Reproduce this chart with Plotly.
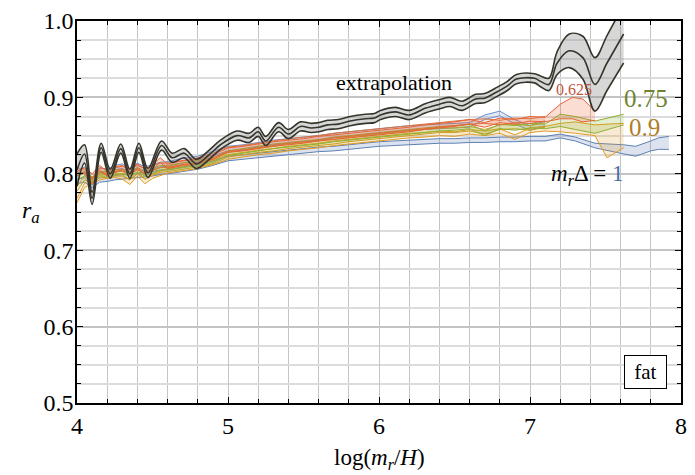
import plotly.graph_objects as go

# ---------------- data ----------------
# extrapolation band
x_ext = [4.00, 4.05, 4.10, 4.16, 4.22, 4.29, 4.35, 4.41, 4.47, 4.56, 4.63, 4.71, 4.79, 4.87, 4.95,
         5.06, 5.14, 5.20, 5.25, 5.335, 5.40, 5.48, 5.55, 5.60, 5.66, 5.73, 5.81, 5.91, 5.97, 6.01,
         6.11, 6.20, 6.31, 6.40, 6.47, 6.55, 6.64, 6.70, 6.77, 6.85, 6.91, 7.03, 7.07, 7.125, 7.18,
         7.26, 7.35, 7.43, 7.51, 7.62]
y_ext = [0.805, 0.826, 0.768, 0.834, 0.800, 0.833, 0.800, 0.834, 0.801, 0.837, 0.821, 0.827, 0.813, 0.824, 0.838,
         0.850, 0.847, 0.855, 0.843, 0.861, 0.852, 0.862, 0.860, 0.861, 0.864, 0.865, 0.869, 0.872, 0.873, 0.877,
         0.881, 0.877, 0.886, 0.891, 0.894, 0.889, 0.898, 0.899, 0.906, 0.915, 0.924, 0.925, 0.921, 0.917, 0.945,
         0.961, 0.952, 0.917, 0.945, 0.983]
hw_ext = [0.021, 0.012, 0.008, 0.006, 0.006, 0.006, 0.006, 0.006, 0.006, 0.006, 0.006, 0.006, 0.006, 0.006, 0.006,
          0.006, 0.006, 0.006, 0.006, 0.006, 0.006, 0.006, 0.006, 0.006, 0.006, 0.006, 0.006, 0.006, 0.006, 0.006,
          0.006, 0.006, 0.006, 0.006, 0.006, 0.006, 0.006, 0.006, 0.006, 0.006, 0.006, 0.006, 0.007, 0.008, 0.015,
          0.022, 0.028, 0.035, 0.036, 0.038]

# common abscissa of the mrΔ bundle
x_b = [4.0, 4.05, 4.1, 4.15, 4.2, 4.25, 4.3, 4.35, 4.4, 4.45, 4.5, 4.55, 4.6, 4.7, 4.8, 4.9, 5.0, 5.1, 5.2,
       5.3, 5.4, 5.5, 5.6, 5.7, 5.8, 5.9, 6.0, 6.1, 6.2, 6.3, 6.4, 6.5, 6.6, 6.7, 6.8, 6.9, 7.0, 7.1]
band_hw = 0.003

r_blue = [0.790, 0.792, 0.785, 0.792, 0.793, 0.795, 0.796, 0.797, 0.798, 0.799, 0.800, 0.802, 0.803, 0.806, 0.809,
          0.814, 0.820, 0.822, 0.824, 0.826, 0.828, 0.830, 0.832, 0.833, 0.835, 0.837, 0.839, 0.840, 0.841, 0.842,
          0.843, 0.843, 0.844, 0.844, 0.845, 0.845, 0.846, 0.846]
r_lightblue = [0.800, 0.806, 0.788, 0.805, 0.803, 0.808, 0.810, 0.804, 0.811, 0.806, 0.809, 0.812, 0.813, 0.817,
               0.820, 0.826, 0.833, 0.835, 0.838, 0.841, 0.843, 0.845, 0.847, 0.850, 0.852, 0.854, 0.856, 0.858,
               0.860, 0.861, 0.862, 0.863, 0.864, 0.874, 0.879, 0.868, 0.860, 0.866]
r_orange = [0.765, 0.785, 0.790, 0.795, 0.797, 0.798, 0.796, 0.789, 0.800, 0.790, 0.797, 0.800, 0.804, 0.807, 0.810,
            0.815, 0.822, 0.825, 0.828, 0.830, 0.833, 0.835, 0.837, 0.840, 0.842, 0.844, 0.846, 0.848, 0.850, 0.851,
            0.853, 0.852, 0.855, 0.853, 0.856, 0.848, 0.857, 0.859]
r_brown = [0.780, 0.795, 0.792, 0.798, 0.798, 0.800, 0.800, 0.795, 0.803, 0.796, 0.801, 0.805, 0.806, 0.809, 0.812,
           0.816, 0.825, 0.828, 0.831, 0.833, 0.836, 0.838, 0.840, 0.842, 0.845, 0.847, 0.849, 0.851, 0.853, 0.855,
           0.857, 0.857, 0.859, 0.855, 0.861, 0.862, 0.860, 0.864]
r_green = [0.795, 0.800, 0.793, 0.800, 0.800, 0.802, 0.803, 0.800, 0.805, 0.800, 0.804, 0.808, 0.808, 0.811, 0.814,
           0.818, 0.827, 0.830, 0.833, 0.836, 0.838, 0.840, 0.842, 0.845, 0.847, 0.849, 0.851, 0.853, 0.855, 0.857,
           0.859, 0.860, 0.862, 0.853, 0.862, 0.860, 0.863, 0.862]
r_purple = [0.805, 0.803, 0.790, 0.805, 0.802, 0.805, 0.807, 0.803, 0.808, 0.804, 0.807, 0.811, 0.811, 0.815, 0.818,
            0.824, 0.832, 0.834, 0.837, 0.840, 0.843, 0.845, 0.847, 0.850, 0.852, 0.854, 0.856, 0.858, 0.860, 0.862,
            0.864, 0.866, 0.868, 0.869, 0.867, 0.870, 0.869, 0.872]
r_red = [0.800, 0.805, 0.797, 0.808, 0.800, 0.806, 0.808, 0.802, 0.810, 0.803, 0.808, 0.818, 0.810, 0.814, 0.816,
         0.822, 0.831, 0.833, 0.836, 0.839, 0.841, 0.843, 0.846, 0.848, 0.850, 0.852, 0.854, 0.856, 0.858, 0.861,
         0.863, 0.865, 0.868, 0.864, 0.870, 0.868, 0.872, 0.871]

# continuations beyond log(mr/H)=7.1 (lower / upper edges)
red_x = [7.2, 7.28, 7.35, 7.43]
red_lo = [0.872, 0.872, 0.868, 0.870]
red_hi = [0.891, 0.900, 0.898, 0.882]
green_x = [7.2, 7.3, 7.43, 7.62]
green_lo = [0.862, 0.858, 0.853, 0.864]
green_hi = [0.878, 0.875, 0.869, 0.878]
orange_x = [7.2, 7.3, 7.43, 7.51, 7.62]
orange_lo = [0.855, 0.853, 0.850, 0.821, 0.834]
orange_hi = [0.866, 0.868, 0.864, 0.865, 0.866]
blue_x = [7.2, 7.3, 7.43, 7.62, 7.7, 7.8, 7.85, 7.92]
blue_lo = [0.847, 0.843, 0.834, 0.826, 0.823, 0.830, 0.832, 0.832]
blue_hi = [0.852, 0.848, 0.840, 0.838, 0.836, 0.843, 0.847, 0.849]

# ---------------- figure ----------------
fig = go.Figure()


def band(x, lo, hi, color, fill, width=1.0, shape="linear"):
    fig.add_trace(go.Scatter(x=x, y=lo, mode="lines", line=dict(color=color, width=width, shape=shape),
                             hoverinfo="skip", showlegend=False))
    fig.add_trace(go.Scatter(x=x, y=hi, mode="lines", line=dict(color=color, width=width, shape=shape),
                             fill="tonexty", fillcolor=fill, hoverinfo="skip", showlegend=False))


series = [
    (r_blue, "#5E81B5", "rgba(94,129,181,0.22)", blue_x, blue_lo, blue_hi),
    (r_lightblue, "#6C8FD0", "rgba(108,143,208,0.2)", [], [], []),
    (r_orange, "#E19C24", "rgba(225,156,36,0.2)", orange_x, orange_lo, orange_hi),
    (r_brown, "#C8A020", "rgba(200,160,32,0.18)", [], [], []),
    (r_green, "#8FB032", "rgba(143,176,50,0.22)", green_x, green_lo, green_hi),
    (r_purple, "#D9733F", "rgba(217,115,63,0.18)", [], [], []),
    (r_red, "#EB6235", "rgba(235,98,53,0.22)", red_x, red_lo, red_hi),
]
for vals, col, fcol, ex, elo, ehi in series:
    lo = [v - band_hw for v in vals] + elo
    hi = [v + band_hw for v in vals] + ehi
    band(x_b + ex, lo, hi, col, fcol)

# extrapolation
lo_e = [c - h for c, h in zip(y_ext, hw_ext)]
hi_e = [c + h for c, h in zip(y_ext, hw_ext)]
band(x_ext, lo_e, hi_e, "#35352c", "rgba(140,140,140,0.35)", width=1.6, shape="spline")
fig.add_trace(go.Scatter(x=x_ext, y=y_ext, mode="lines",
                         line=dict(color="#35352c", width=1.6, shape="spline"),
                         hoverinfo="skip", showlegend=False))

FONT = "Liberation Serif, Times New Roman, serif"

fig.add_annotation(x=6.10, y=0.919, text="extrapolation", showarrow=False,
                   font=dict(family=FONT, size=22, color="black"))
fig.add_annotation(x=7.29, y=0.910, text="0.625", showarrow=False,
                   font=dict(family=FONT, size=16, color="#C0553A"))
fig.add_annotation(x=7.77, y=0.898, text="0.75", showarrow=False,
                   font=dict(family=FONT, size=25, color="#6E8430"))
fig.add_annotation(x=7.755, y=0.860, text="0.9", showarrow=False,
                   font=dict(family=FONT, size=25, color="#B07D2A"))
fig.add_annotation(x=7.38, y=0.798,
                   text="<i>m<sub>r</sub></i>Δ =<span style='color:#4A6FA5'> 1</span>",
                   showarrow=False, font=dict(family=FONT, size=23, color="black"))
fig.add_annotation(x=7.765, y=0.540, text=" fat ", showarrow=False,
                   font=dict(family=FONT, size=21, color="black"),
                   bordercolor="black", borderwidth=1, borderpad=4, bgcolor="white")

# axis titles as annotations
fig.add_annotation(xref="paper", yref="paper", x=-0.095, y=0.50, text="<i>r<sub>a</sub></i>",
                   showarrow=False, font=dict(family=FONT, size=24, color="black"))
fig.add_annotation(xref="paper", yref="paper", x=0.50, y=-0.147, yanchor="middle",
                   text="log(<i>m<sub>r</sub></i>/<i>H</i>)",
                   showarrow=False, font=dict(family=FONT, size=23, color="black"))

grid_col = "#c4c4c4"
fig.update_xaxes(range=[4, 8], dtick=1, tick0=4, showgrid=True, gridcolor=grid_col, gridwidth=1,
                 ticks="inside", ticklen=6, tickcolor="black", showline=True, linecolor="black",
                 linewidth=1.5, mirror="allticks", zeroline=False,
                 tickfont=dict(family=FONT, size=24, color="black"),
                 minor=dict(dtick=0.2, showgrid=True, gridcolor=grid_col, gridwidth=1,
                            ticks="inside", ticklen=4, tickcolor="black"))
fig.update_yaxes(range=[0.5, 1.0], dtick=0.1, tick0=0.5, tickformat=".1f", showgrid=True,
                 gridcolor=grid_col, gridwidth=1.5,
                 ticks="inside", ticklen=6, tickcolor="black", showline=True, linecolor="black",
                 linewidth=1.5, mirror="allticks", zeroline=False, ticklabelstandoff=-3,
                 tickfont=dict(family=FONT, size=24, color="black"),
                 minor=dict(dtick=0.025, showgrid=True, gridcolor="#dcdcdc", gridwidth=1.5,
                            ticks="inside", ticklen=4, tickcolor="black"))

fig.update_layout(width=695, height=475, margin=dict(l=77, r=8, t=19, b=72),
                  font=dict(family=FONT, color="black"),
                  plot_bgcolor="white", paper_bgcolor="white", showlegend=False)

fig.write_html("out.html", config={"displayModeBar": False},
               post_script="document.body.style.margin='0';")
